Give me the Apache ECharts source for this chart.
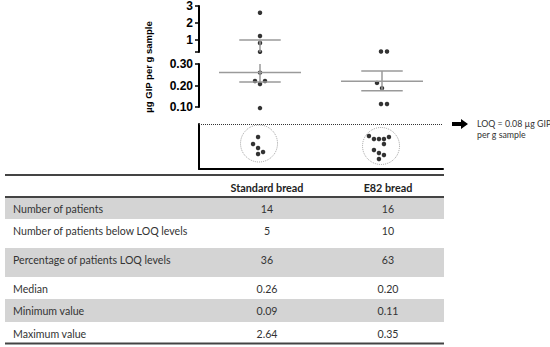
<!DOCTYPE html>
<html><head><meta charset="utf-8">
<script src="https://cdn.jsdelivr.net/npm/echarts@6/dist/echarts.min.js"></script>
<style>html,body{margin:0;padding:0;background:#fff}#c{width:550px;height:347px}</style>
</head><body><div id="c"></div>
<script>
// ---------- data ----------
const categories = ['Standard bread', 'E82 bread'];
const standardValues = [2.6, 1.24, 0.83, 0.31, 0.26, 0.221, 0.221, 0.207, 0.095];
const e82Values = [0.33, 0.33, 0.212, 0.188, 0.114, 0.114];
const medianLine = [0.26, 0.22];
const barHigh = [1.0, 0.267];
const barLow = [0.216, 0.176];
const belowLOQCount = [5, 10];
const upperTicks = [1, 2, 3];
const lowerTicks = [0.10, 0.20, 0.30];
const yAxisTitle = 'µg GIP per g sample';
const loqText = ['LOQ = 0.08 µg GIP', 'per g sample'];
const tableHeader = ['Standard bread', 'E82 bread'];
const rowLabels = ['Number of patients', 'Number of patients below LOQ levels', 'Percentage of patients LOQ levels', 'Median', 'Minimum value', 'Maximum value'];
const standardColumn = ['14', '5', '36', '0.26', '0.09', '2.64'];
const e82Column = ['16', '10', '63', '0.20', '0.11', '0.35'];

// ---------- layout (not data) ----------
const J = 0.041;
const standardJitter = [0, 0, 0, 0, 0, -1, 1, 0, 0];
const e82Jitter = [-0.2, 1, -1, 0, -0.2, 1];
const clusterLayout = [
  [[-0.016, 0.711], [-0.057, 0.556], [-0.016, 0.467], [0.025, 0.378], [-0.016, 0.333]],
  [[-0.107, 0.733], [-0.066, 0.667], [-0.025, 0.667], [0.016, 0.667], [0.057, 0.711],
   [0.016, 0.556], [-0.066, 0.422], [-0.025, 0.356], [0.016, 0.311], [-0.025, 0.222]]
];
const circleCenter = [[-0.008, 0.567], [-0.008, 0.511]];
const BREAK = 0.3;
const FONT = 'Liberation Sans';
const TFONT = 'Lato';

const groups = [standardValues, e82Values];
const jitters = [standardJitter, e82Jitter];
const upperPts = [], lowerPts = [];
groups.forEach((vals, ci) => vals.forEach((v, k) => {
  const p = [ci + jitters[ci][k] * J, v];
  (v >= BREAK ? upperPts : lowerPts).push(p);
}));
const clusterPts = [];
clusterLayout.forEach((lay, ci) => lay.slice(0, belowLOQCount[ci]).forEach(p => clusterPts.push([ci + p[0], p[1]])));
const circles = circleCenter.map((c, ci) => [ci + c[0], c[1]]);

const barData = categories.map((c, i) => [i, medianLine[i], barHigh[i], barLow[i]]);
function barRender(lo, hi) {
  return function (params, api) {
    const i = api.value(0), med = api.value(1), h = api.value(2), l = api.value(3);
    const children = [];
    const style = { stroke: '#9a9a9a', lineWidth: 1.5 };
    const seg = (x1, y1, x2, y2) => {
      const a = api.coord([x1, y1]), b = api.coord([x2, y2]);
      children.push({ type: 'line', shape: { x1: a[0], y1: a[1], x2: b[0], y2: b[1] }, style });
    };
    const inR = v => v >= lo - 1e-9 && v <= hi + 1e-9;
    if (inR(med)) seg(i - 0.336, med, i + 0.336, med);
    if (inR(h)) seg(i - 0.17, h, i + 0.17, h);
    if (inR(l)) seg(i - 0.17, l, i + 0.17, l);
    const top = Math.min(h, hi), bot = Math.max(l, lo);
    if (top > bot) seg(i, bot, i, top);
    return { type: 'group', children };
  };
}

const axisLineStyle = { show: true, onZero: false, lineStyle: { color: '#000', width: 2 } };
const labelStyle = { fontFamily: FONT, fontWeight: 'bold', fontSize: 12, color: '#000', margin: 6 };

// table graphics
const rowTops = [197, 219, 248, 277, 299, 322];
const tableBottom = 343.5;
const colX = [267, 388];
const graphics = [];
rowTops.forEach((t, r) => {
  const b = r + 1 < rowTops.length ? rowTops[r + 1] : tableBottom;
  if (r % 2 === 0) graphics.push({ type: 'rect', shape: { x: 5, y: t, width: 439, height: b - t }, style: { fill: '#d4d4d4' }, z: 1 });
  const ty = t + 11.5;
  graphics.push({ type: 'text', x: 13, y: ty, style: { text: rowLabels[r], font: '10.6px ' + TFONT, fill: '#333', verticalAlign: 'middle', align: 'left' }, z: 3 });
  graphics.push({ type: 'text', x: colX[0], y: ty, style: { text: standardColumn[r], font: '10.6px ' + TFONT, fill: '#333', verticalAlign: 'middle', align: 'center' }, z: 3 });
  graphics.push({ type: 'text', x: colX[1], y: ty, style: { text: e82Column[r], font: '10.6px ' + TFONT, fill: '#333', verticalAlign: 'middle', align: 'center' }, z: 3 });
});
tableHeader.forEach((h, i) => graphics.push({ type: 'text', x: colX[i], y: 187, style: { text: h, font: 'bold 10.8px ' + TFONT, fill: '#222', verticalAlign: 'middle', align: 'center' }, z: 3 }));
[175, 197, tableBottom].forEach(y => graphics.push({ type: 'line', shape: { x1: 5, y1: y, x2: 444, y2: y }, style: { stroke: '#444', lineWidth: 2 }, z: 4 }));
graphics.push({ type: 'text', x: 148, y: 67, rotation: Math.PI / 2, style: { text: yAxisTitle, font: 'bold 9.5px ' + FONT, fill: '#000', align: 'center', verticalAlign: 'middle' } });
graphics.push({ type: 'polygon', shape: { points: [[452, 122], [461, 122], [461, 119], [468, 124], [461, 129], [461, 126], [452, 126]] }, style: { fill: '#000' } });
loqText.forEach((t, i) => graphics.push({ type: 'text', x: 477, y: 123 + i * 11, style: { text: t, font: '8.8px ' + TFONT, fill: '#333', align: 'left', verticalAlign: 'middle' } }));

const option = {
  animation: false,
  backgroundColor: '#fff',
  grid: [
    { left: 199, top: 6, width: 244, height: 46 },
    { left: 199, top: 64, width: 244, height: 43 },
    { left: 199, top: 124, width: 244, height: 45 }
  ],
  xAxis: [0, 1, 2].map(g => ({
    gridIndex: g, type: 'value', min: -0.5, max: 1.5, show: g === 2,
    axisLine: axisLineStyle, axisTick: { show: false }, axisLabel: { show: false }, splitLine: { show: false }
  })),
  yAxis: [
    { gridIndex: 0, type: 'value', min: BREAK, max: 3, axisLine: axisLineStyle,
      axisTick: { show: true, length: 4, customValues: [BREAK].concat(upperTicks), lineStyle: { color: '#000', width: 1.5 } },
      axisLabel: Object.assign({ customValues: upperTicks }, labelStyle), splitLine: { show: false } },
    { gridIndex: 1, type: 'value', min: lowerTicks[0], max: lowerTicks[lowerTicks.length - 1], axisLine: axisLineStyle,
      axisTick: { show: true, length: 4, customValues: lowerTicks, lineStyle: { color: '#000', width: 1.5 } },
      axisLabel: Object.assign({ customValues: lowerTicks, formatter: v => v.toFixed(2) }, labelStyle), splitLine: { show: false } },
    { gridIndex: 2, type: 'value', min: 0, max: 1, axisLine: axisLineStyle, axisTick: { show: false }, axisLabel: { show: false }, splitLine: { show: false } }
  ],
  series: [
    { type: 'scatter', xAxisIndex: 0, yAxisIndex: 0, data: upperPts, symbolSize: 4.5, itemStyle: { color: '#000' }, clip: false, z: 2 },
    { type: 'scatter', xAxisIndex: 1, yAxisIndex: 1, data: lowerPts, symbolSize: 4.5, itemStyle: { color: '#000' }, clip: false, z: 2 },
    { type: 'custom', xAxisIndex: 0, yAxisIndex: 0, data: barData, renderItem: barRender(BREAK, 3), z: 3 },
    { type: 'custom', xAxisIndex: 1, yAxisIndex: 1, data: barData, renderItem: barRender(lowerTicks[0], lowerTicks[2]), z: 3 },
    { type: 'scatter', xAxisIndex: 2, yAxisIndex: 2, data: circles, symbolSize: 37,
      itemStyle: { color: 'rgba(0,0,0,0)', borderColor: '#8a8a8a', borderWidth: 1, borderType: 'dotted' },
      markLine: { silent: true, symbol: 'none', label: { show: false }, lineStyle: { color: '#333', type: 'dotted', width: 1 }, data: [{ yAxis: 1 }] } },
    { type: 'scatter', xAxisIndex: 2, yAxisIndex: 2, data: clusterPts, symbolSize: 4.5, itemStyle: { color: '#000' } }
  ],
  graphic: graphics
};
const chart = echarts.init(document.getElementById('c'), null, { renderer: 'svg' });
chart.setOption(option);
</script></body></html>
